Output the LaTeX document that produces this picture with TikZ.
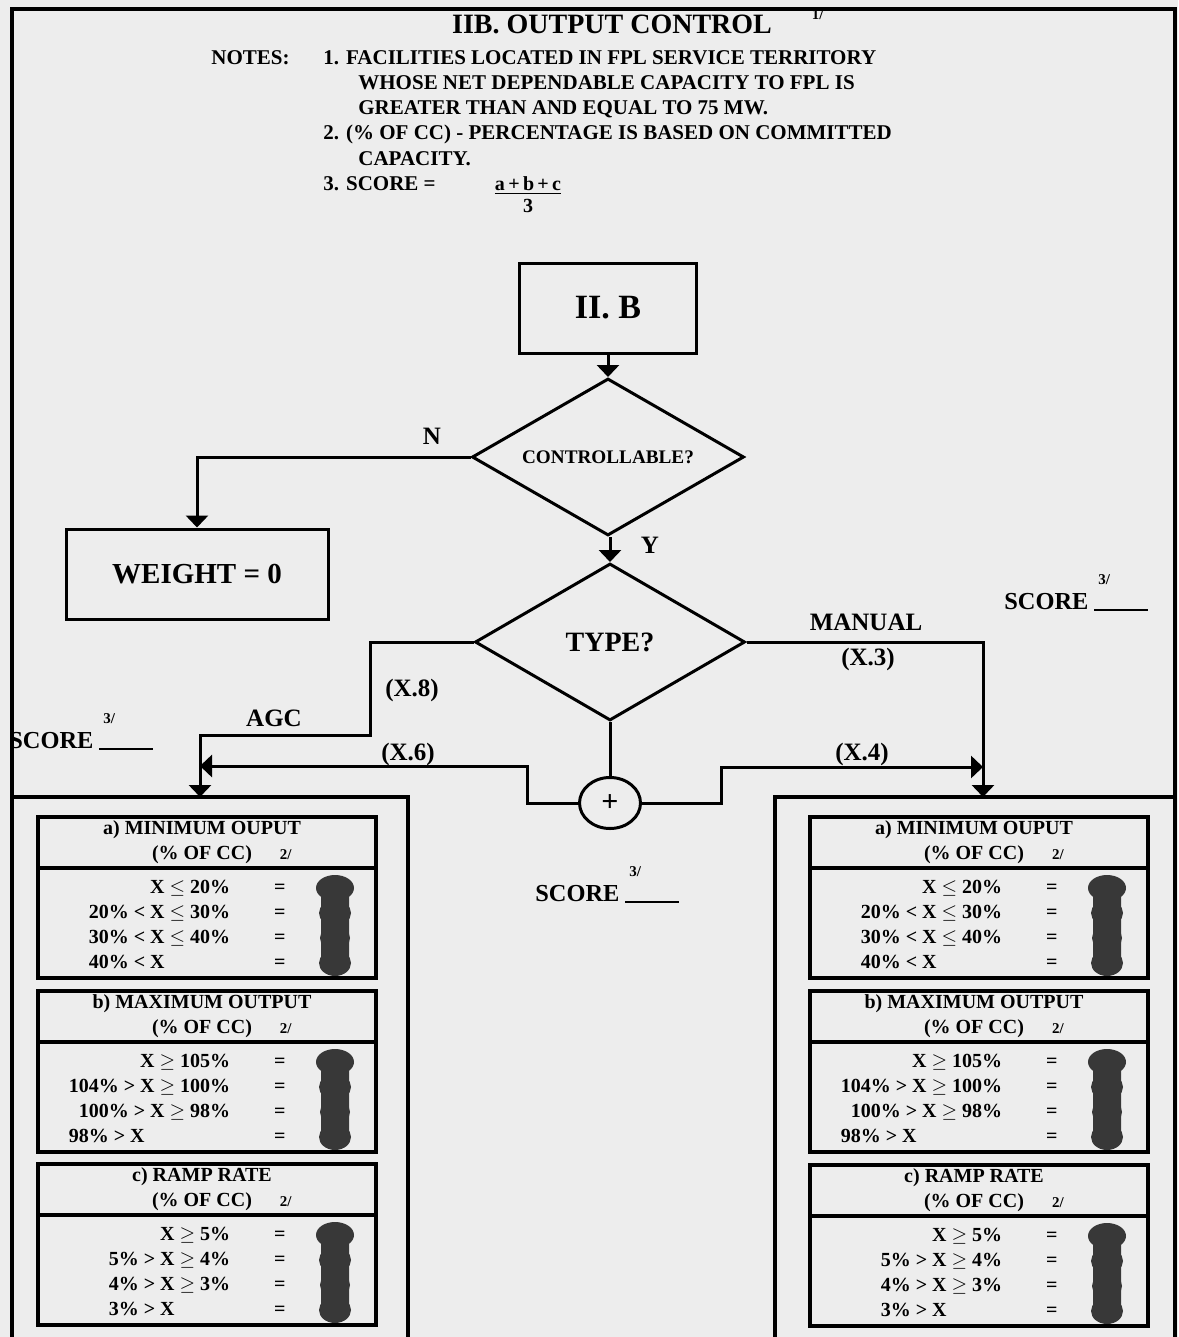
\documentclass[tikz,border=0pt]{standalone}
\usepackage{fontspec}
\setmainfont{Liberation Serif}
\usetikzlibrary{shapes.geometric,arrows.meta}

\newcommand{\fsz}[2]{\fontsize{#1}{#2}\selectfont\bfseries}
\newcommand{\scoreblank}{SCORE\hspace{3pt}\rlap{\hspace{2pt}\raisebox{2.2ex}{\fsz{7.5}{8}3/}}\rule[-1pt]{27pt}{0.9pt}}
\newcommand{\lastrow}[1]{\multicolumn{1}{@{}l@{\hspace{22pt}}}{#1}}

\tikzset{
  box/.style={draw,line width=1.5pt,inner sep=0pt},
  decide/.style={diamond,draw,line width=1.5pt,aspect=1.7,inner sep=1pt},
  flow/.style={line width=1.5pt,-{Triangle[width=11pt,length=6pt]}},
  link/.style={line width=1.5pt},
  frame/.style={line width=1.6pt},
  lbl/.style={inner sep=0pt,font=\fsz{12.5}{14}},
  ink/.style={fill=black!78},
}

% one criterion table: name, left, top, heading, rows
\newcommand{\critbox}[5]{%
  \draw[frame] (#2,#3) rectangle ++(338,161);
  \draw[frame] (#2,#3+51) -- ++(338,0);
  \node[font=\fsz{10}{12.5},align=center,inner sep=0pt] (#1h) at (#2+164,#3+25)
    {#4\\(\% OF CC)\rlap{\hspace{14pt}\fsz{7.5}{8}2/}};
  \node[font=\fsz{10}{12.5},inner sep=0pt,anchor=north east] (#1r) at (#2+248,#3+59)
    {\begin{tabular}{@{}r@{\hspace{22pt}}c@{}}#5\end{tabular}};
  \fill[ink,rounded corners=5pt] (#2+283,#3+62) rectangle (#2+311,#3+156);
  \foreach \k/\w in {0/19,1/16,2/15,3/16}
    \fill[ink] (#2+297,#3+71+25*\k) ellipse [x radius=\w, y radius=13];
}

\begin{document}
\begin{tikzpicture}[x=0.5pt,y=-0.5pt,font=\bfseries]
\useasboundingbox (0,0) rectangle (1178,1337);
\fill[black!7] (0,0) rectangle (1178,1337);

% frame and the two score panels
\draw[frame] (12,1337) -- (12,9) -- (1175,9) -- (1175,1337);
\draw[frame] (12,797) -- (408,797) -- (408,1337);
\draw[frame] (775,1337) -- (775,797) -- (1175,797);

% heading and notes
\node[font=\fsz{14}{16},inner sep=0pt] (title) at (612,22)
  {IIB. OUTPUT CONTROL\rlap{\hspace{20pt}\raisebox{1.1ex}{\fsz{7.5}{8}1/}}};
\node[font=\fsz{10.5}{12.5},anchor=west,inner sep=0pt] (notehd) at (211,58) {NOTES:};
\node[font=\fsz{10.5}{12.6},anchor=north west,align=left,inner sep=0pt] (notes) at (323,50)
  {1. FACILITIES LOCATED IN FPL SERVICE TERRITORY\\
   \hspace*{17.5pt}WHOSE NET DEPENDABLE CAPACITY TO FPL IS\\
   \hspace*{17.5pt}GREATER THAN AND EQUAL TO 75 MW.\\
   2. (\% OF CC) - PERCENTAGE IS BASED ON COMMITTED\\
   \hspace*{17.5pt}CAPACITY.\\
   3. SCORE =};
\node[font=\fsz{10}{11},align=center,inner sep=0pt] (frac) at (528,195)
  {\underline{a\,+\,b\,+\,c}\\3};

% flow chart
\node[box,minimum width=88.5pt,minimum height=45pt,font=\fsz{17}{20}] (iib) at (608,308) {II. B};
\node[decide,minimum width=136pt,minimum height=78.5pt,font=\fsz{9.6}{11}] (ctrl) at (608,457) {CONTROLLABLE?};
\node[box,minimum width=131pt,minimum height=45pt,font=\fsz{14.5}{16}] (wgt) at (197,574) {WEIGHT = 0};
\node[decide,minimum width=135pt,minimum height=78.5pt,font=\fsz{14}{16}] (type) at (610,642) {TYPE?};
\node[ellipse,draw,line width=1.5pt,minimum width=30.5pt,minimum height=25.5pt,inner sep=0pt,font=\fsz{15}{16}] (sum) at (610,803) {+};

\coordinate (agcbend) at (370,735);
\coordinate (lin) at (200,797);
\coordinate (rin) at (983,797);
\coordinate (lstep) at (527,766);
\coordinate (ljoin) at (200,766);
\coordinate (rstep) at (721,767);
\coordinate (rjoin) at (983,767);

\draw[flow] (iib) -- (iib |- ctrl.north);
\draw[flow] (ctrl.west) -| (wgt.north);
\draw[flow] (ctrl.south -| type) -- (type.north);
\draw[flow] (type.west) -| (agcbend) -| (lin);
\draw[flow] (type.east) -| (rin);
\draw[link] (type.south) -- (sum.north);
\draw[flow] (sum.west) -| (lstep) -- (ljoin);
\draw[flow] (sum.east) -| (rstep) -- (rjoin);

\node[lbl] (nlbl) at (432,436) {N};
\node[lbl] (ylbl) at (650,545) {Y};
\node[lbl] (x8) at (412,690) {(X.8)};
\node[lbl] (agc) at (274,718) {AGC};
\node[lbl] (manual) at (866,622) {MANUAL};
\node[lbl] (x3) at (868,659) {(X.3)};
\node[lbl] (x6) at (408,754) {(X.6)};
\node[lbl] (x4) at (862,754) {(X.4)};

\node[font=\fsz{12.2}{14},anchor=base west,inner sep=0pt] (scoreL) at (9,748) {\scoreblank};
\node[font=\fsz{12.2}{14},anchor=base west,inner sep=0pt] (scoreR) at (1004,609) {\scoreblank};
\node[font=\fsz{12.2}{14},anchor=base west,inner sep=0pt] (scoreM) at (535,901) {\scoreblank};

% criteria, AGC side
\critbox{la}{38}{817}{a) MINIMUM OUPUT}
  {X $\le$ 20\% & =\\ 20\% < X $\le$ 30\% & =\\ 30\% < X $\le$ 40\% & =\\ \lastrow{40\% < X} & =}
\critbox{lb}{38}{991}{b) MAXIMUM OUTPUT}
  {X $\ge$ 105\% & =\\ 104\% > X $\ge$ 100\% & =\\ 100\% > X $\ge$ 98\% & =\\ \lastrow{98\% > X} & =}
\critbox{lc}{38}{1164}{c) RAMP RATE}
  {X $\ge$ 5\% & =\\ 5\% > X $\ge$ 4\% & =\\ 4\% > X $\ge$ 3\% & =\\ \lastrow{3\% > X} & =}
% criteria, manual side
\critbox{ra}{810}{817}{a) MINIMUM OUPUT}
  {X $\le$ 20\% & =\\ 20\% < X $\le$ 30\% & =\\ 30\% < X $\le$ 40\% & =\\ \lastrow{40\% < X} & =}
\critbox{rb}{810}{991}{b) MAXIMUM OUTPUT}
  {X $\ge$ 105\% & =\\ 104\% > X $\ge$ 100\% & =\\ 100\% > X $\ge$ 98\% & =\\ \lastrow{98\% > X} & =}
\critbox{rc}{810}{1165}{c) RAMP RATE}
  {X $\ge$ 5\% & =\\ 5\% > X $\ge$ 4\% & =\\ 4\% > X $\ge$ 3\% & =\\ \lastrow{3\% > X} & =}
\end{tikzpicture}
\end{document}
